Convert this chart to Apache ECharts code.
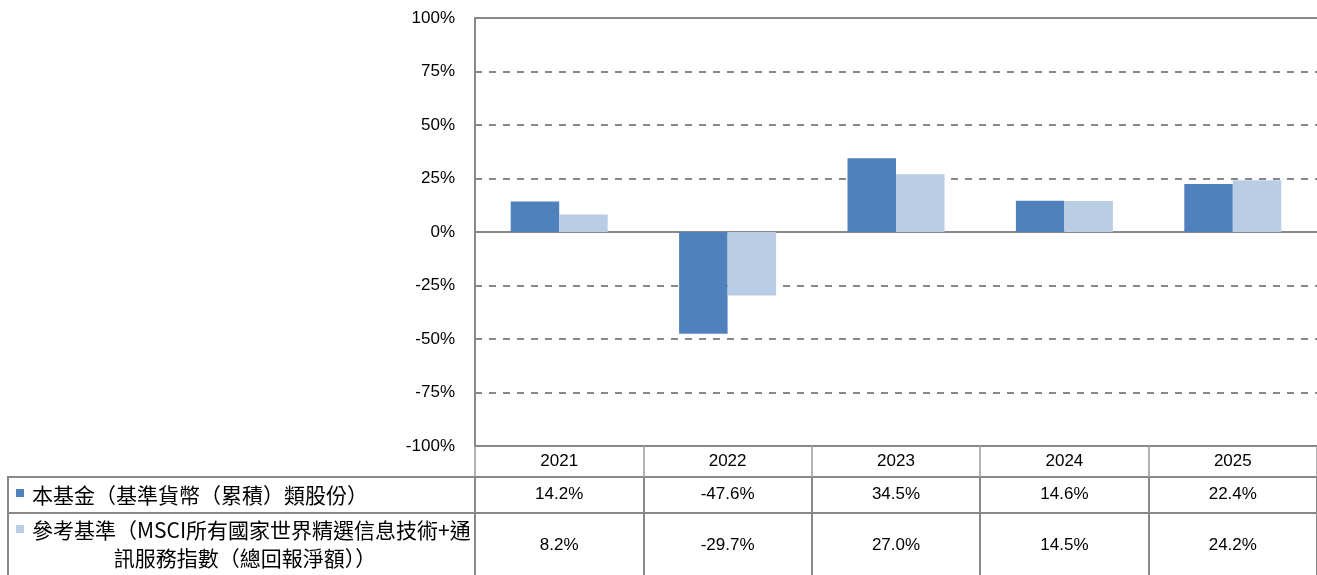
<!DOCTYPE html>
<html>
<head>
<meta charset="utf-8">
<script src="https://cdn.jsdelivr.net/npm/echarts@6/dist/echarts.min.js"></script>
<style>
html,body{margin:0;padding:0;background:#fff;}
#c{width:1317px;height:575px;}
</style>
</head>
<body>
<div id="c"></div>
<script>
// ---- data ----
const years = ['2021', '2022', '2023', '2024', '2025'];
const seriesNames = ['本基金（基準貨幣（累積）類股份）', '參考基準（MSCI所有國家世界精選信息技術+通訊服務指數（總回報淨額））'];
const fundValues = [14.2, -47.6, 34.5, 14.6, 22.4];
const benchValues = [8.2, -29.7, 27.0, 14.5, 24.2];
const yTicks = { min: -100, max: 100, interval: 25 };

// ---- style ----
const GRAY = '#888888';
const C1 = '#4F81BD';
const C2 = '#B9CDE5';
const NUM_FONT = '"Liberation Sans", Arial, sans-serif';
const NUM_SIZE = 17;
const CJK_FONT = '"Noto Sans CJK TC", "Noto Sans CJK SC", sans-serif';
const fmtPct = v => v.toFixed(1) + '%';

const chart = echarts.init(document.getElementById('c'), null, { renderer: 'canvas' });

const gridTop = 18, gridBottomY = 446;
const row1H = 31, row2H = 36;

const wrapAt = 23;
const name2Line1 = seriesNames[1].slice(0, wrapAt);
const name2Line2 = seriesNames[1].slice(wrapAt);

const numLabel = m => ({ show: true, margin: m, fontFamily: NUM_FONT, fontSize: NUM_SIZE, color: '#000', lineHeight: NUM_SIZE });

const option = {
  animation: false,
  backgroundColor: '#fff',
  grid: { left: 475, right: 0, top: gridTop, height: gridBottomY - gridTop, containLabel: false },
  xAxis: [
    { // zero line axis for bars
      type: 'category', data: years, position: 'bottom',
      axisLine: { onZero: true, lineStyle: { color: GRAY, width: 2 } },
      axisTick: { show: false }, axisLabel: { show: false }, splitLine: { show: false }
    },
    { // years row
      type: 'category', data: years, position: 'bottom', offset: 0,
      axisLine: { onZero: false, show: true, lineStyle: { color: GRAY, width: 2 } },
      axisTick: { show: true, length: row1H, lineStyle: { color: '#9a9a9a', width: 1.5 } },
      axisLabel: numLabel(6.5),
      splitLine: { show: false }
    },
    { // fund row
      type: 'category', data: fundValues.map(fmtPct), position: 'bottom', offset: row1H,
      axisLine: { onZero: false, show: true, lineStyle: { color: GRAY, width: 2 } },
      axisTick: { show: true, length: row2H, lineStyle: { color: GRAY, width: 2 } },
      axisLabel: numLabel(9),
      splitLine: { show: false }
    },
    { // benchmark row
      type: 'category', data: benchValues.map(fmtPct), position: 'bottom', offset: row1H + row2H,
      axisLine: { onZero: false, show: true, lineStyle: { color: GRAY, width: 2 } },
      axisTick: { show: true, length: 80, lineStyle: { color: GRAY, width: 2 } },
      axisLabel: numLabel(23.5),
      splitLine: { show: false }
    },
    { // top border
      type: 'category', data: years, position: 'top',
      axisLine: { onZero: false, show: true, lineStyle: { color: GRAY, width: 2 } },
      axisTick: { show: false }, axisLabel: { show: false }, splitLine: { show: false }
    }
  ],
  yAxis: {
    type: 'value', min: yTicks.min, max: yTicks.max, interval: yTicks.interval,
    axisLine: { show: true, lineStyle: { color: GRAY, width: 2 } },
    axisTick: { show: false },
    axisLabel: { margin: 20, fontFamily: NUM_FONT, fontSize: NUM_SIZE, color: '#000', formatter: v => v + '%' },
    splitLine: { show: true, lineStyle: { color: GRAY, width: 2, type: [7, 7] } }
  },
  series: [
    { name: seriesNames[0], type: 'bar', xAxisIndex: 0, data: fundValues, barWidth: 48.5, barGap: '0%', itemStyle: { color: C1 }, z: 3 },
    { name: seriesNames[1], type: 'bar', xAxisIndex: 0, data: benchValues, barWidth: 48.5, barGap: '0%', itemStyle: { color: C2 }, z: 3 }
  ],
  graphic: [
    { type: 'rect', shape: { x: 8, y: 477, width: 467, height: 120 }, style: { fill: 'none', stroke: GRAY, lineWidth: 2 }, z: 10 },
    { type: 'line', shape: { x1: 8, y1: 513, x2: 475, y2: 513 }, style: { stroke: GRAY, lineWidth: 2 }, z: 10 },
    { type: 'rect', shape: { x: 16, y: 489, width: 8, height: 8 }, style: { fill: C1 }, z: 10 },
    { type: 'rect', shape: { x: 16, y: 525, width: 8, height: 8 }, style: { fill: C2 }, z: 10 },
    { type: 'text', x: 32, y: 495, style: { text: seriesNames[0], font: '21px ' + CJK_FONT, fill: '#000', textAlign: 'left', textVerticalAlign: 'middle' }, z: 10 },
    { type: 'text', x: 32, y: 530, style: { text: name2Line1, font: '21px ' + CJK_FONT, fill: '#000', textAlign: 'left', textVerticalAlign: 'middle' }, z: 10 },
    { type: 'text', x: 245, y: 558, style: { text: name2Line2, font: '21px ' + CJK_FONT, fill: '#000', textAlign: 'center', textVerticalAlign: 'middle' }, z: 10 }
  ]
};
chart.setOption(option);
</script>
</body>
</html>
